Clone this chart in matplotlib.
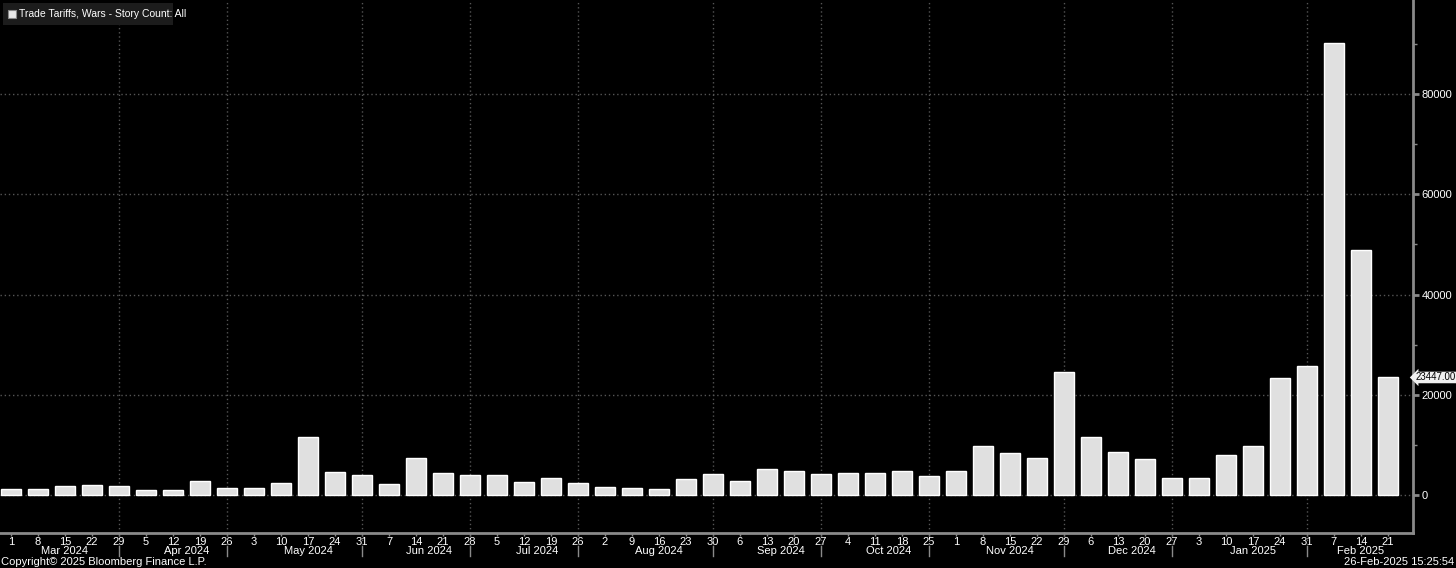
"""
Trade Tariffs, Wars - weekly story count (Bloomberg style bar chart).
"""

import matplotlib
matplotlib.use("Agg")
import matplotlib.pyplot as plt
import matplotlib.dates as mdates
from matplotlib.patches import Rectangle
import pandas as pd

# weekly buckets, Fridays from 1 Mar 2024 to 21 Feb 2025
weeks = pd.date_range("2024-03-01", "2025-02-21", freq="7D")

story_counts = [
    1200, 1100, 1800, 2000, 1700,          # Mar
    1000, 1000, 2700, 1400,                # Apr
    1300, 2300, 11650, 4600, 4000,         # May
    2200, 7450, 4400, 4000,                # Jun
    3900, 2500, 3400, 2400,                # Jul
    1600, 1400, 1200, 3200, 4200,          # Aug
    2800, 5100, 4700, 4200,                # Sep
    4300, 4300, 4700, 3800,                # Oct
    4700, 9700, 8300, 7400, 24600,         # Nov
    11500, 8600, 7100, 3300,               # Dec
    3300, 8000, 9700, 23400, 25700,        # Jan
    90150, 48800, 23447,                   # Feb
]

month_labels = ["Mar 2024", "Apr 2024", "May 2024", "Jun 2024", "Jul 2024",
                "Aug 2024", "Sep 2024", "Oct 2024", "Nov 2024", "Dec 2024",
                "Jan 2025", "Feb 2025"]

series_name = "Trade Tariffs, Wars - Story Count: All"
last_value = story_counts[-1]

GRID = "#555555"
AXIS = "#8a8a8a"
FONT = ["Liberation Sans Narrow", "Liberation Sans", "DejaVu Sans"]
FS = 8
W, H = 1456, 568


def main():
    plt.rcParams["font.family"] = FONT
    fig = plt.figure(figsize=(W / 100, H / 100), dpi=100, facecolor="black")
    ax = fig.add_axes([0.0, 1 - 533 / H, 1413 / W, 533 / H])
    ax.set_facecolor("black")

    x = mdates.date2num(weeks)
    ax.bar(x, story_counts, width=5.2, color="#e0e0e0", edgecolor="white",
           linewidth=1.0, zorder=3)

    ax.set_xlim(x[0] - 2.85, x[-1] + 6.5)
    ax.set_ylim(-7600, 98800)

    # right-hand value axis
    ax.yaxis.tick_right()
    ax.set_yticks([0, 20000, 40000, 60000, 80000])
    ax.set_yticks(range(10000, 100000, 20000), minor=True)
    ax.tick_params(axis="y", which="both", colors=AXIS, labelcolor="white",
                   labelsize=FS, direction="out", pad=2)
    ax.tick_params(axis="y", which="major", length=4, width=2)
    ax.tick_params(axis="y", which="minor", length=3, width=1)

    # x ticks: day of month for each week
    ax.set_xticks(x)
    ax.set_xticklabels([str(d.day) for d in weeks], fontsize=FS,
                       color="white")
    ax.tick_params(axis="x", colors=AXIS, labelcolor="white", length=2,
                   width=1, pad=1)

    for side in ["top", "left"]:
        ax.spines[side].set_visible(False)
    ax.spines["right"].set_color(AXIS)
    ax.spines["right"].set_linewidth(2)
    ax.spines["bottom"].set_color(AXIS)
    ax.spines["bottom"].set_linewidth(2)

    # horizontal grid on major values
    ax.grid(axis="y", which="major", color=GRID, linestyle=(0, (1, 2)),
            linewidth=1, zorder=1)

    # month groups: last week of each month gets a vertical gridline
    months = weeks.to_period("M")
    trans = ax.get_xaxis_transform()
    for i, m in enumerate(months.unique()):
        idx = [j for j in range(len(weeks)) if months[j] == m]
        mid = (x[idx[0]] + x[idx[-1]]) / 2
        ax.text(mid, -0.034, month_labels[i], transform=trans, ha="center",
                va="center", fontsize=FS, color="white")
        if i < len(month_labels) - 1:
            last = x[idx[-1]]
            ax.axvline(last, color=GRID, linestyle=(0, (1, 2)), linewidth=1,
                       zorder=1)
            ax.plot([last, last], [-0.004, -0.024], transform=trans,
                    color=GRID, linestyle=(0, (1, 2)), linewidth=1,
                    clip_on=False)
            ax.plot([last, last], [-0.024, -0.044], transform=trans,
                    color=AXIS, linewidth=1, clip_on=False)

    # legend box (top-left)
    fig.patches.append(Rectangle((3 / W, 1 - 25 / H), 170 / W, 22 / H,
                                 transform=fig.transFigure,
                                 facecolor="#1c1c1c", edgecolor="none"))
    fig.patches.append(Rectangle((8 / W, 1 - 18 / H), 8 / W, 8 / H,
                                 transform=fig.transFigure,
                                 facecolor="#e8e8e8", edgecolor="#888888",
                                 linewidth=0.8))
    fig.text(19 / W, 1 - 14 / H, series_name, ha="left", va="center",
             fontsize=7.5, color="white")

    # last value tag
    ax.annotate(f"{last_value:.2f}", xy=(1.0, last_value),
                xycoords=("axes fraction", "data"), xytext=(2, 0),
                textcoords="offset points", ha="left", va="center",
                fontsize=7, color="black",
                bbox=dict(boxstyle="larrow,pad=0.08", facecolor="#f0f0f0",
                          edgecolor="none"),
                annotation_clip=False)

    fig.text(0.001, 0.01, "Copyright\u00A9 2025 Bloomberg Finance L.P.",
             ha="left", va="center", fontsize=FS, color="white")
    fig.text(0.999, 0.01, "26-Feb-2025 15:25:54", ha="right", va="center",
             fontsize=FS, color="white")

    fig.savefig("out.png", dpi=100, facecolor="black")


if __name__ == "__main__":
    main()
